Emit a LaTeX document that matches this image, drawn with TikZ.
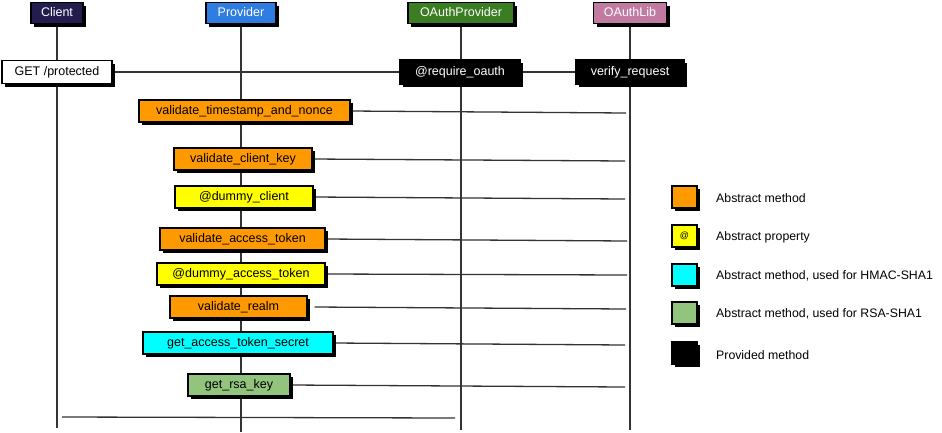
\documentclass[tikz,border=0pt]{standalone}
\usepackage{fontspec}
\setmainfont{Liberation Sans}
\usetikzlibrary{shadows,backgrounds}
\definecolor{cnavy}{HTML}{221C4F}
\definecolor{cblue}{HTML}{2F7DE1}
\definecolor{cgreen}{HTML}{3A7D22}
\definecolor{cpink}{HTML}{C27BA0}
\definecolor{corange}{HTML}{FF9900}
\definecolor{cyellow}{HTML}{FFFF00}
\definecolor{ccyan}{HTML}{00FFFF}
\definecolor{csage}{HTML}{93C47D}
\definecolor{linec}{HTML}{333333}
\begin{document}
\begin{tikzpicture}[x=1pt,y=-1pt,
  font=\fontsize{12.5}{14}\selectfont,
  box/.style={draw=black, line width=1.3pt, minimum height=22pt, inner sep=0pt,
    text height=8.5pt, text depth=2.5pt,
    drop shadow={shadow xshift=3pt, shadow yshift=-3pt, fill=black, opacity=1}},
  head/.style={box, text=white, minimum height=21pt},
  absm/.style={box, fill=corange},
  absp/.style={box, fill=cyellow},
  hmac/.style={box, fill=ccyan},
  rsa/.style={box, fill=csage},
  prov/.style={box, fill=black, text=white},
  life/.style={draw=linec, line width=1.3pt},
  conn/.style={draw=linec, line width=1.3pt},
  legtext/.style={anchor=west, inner sep=0pt, font=\fontsize{12.3}{14}\selectfont}]
\useasboundingbox (0,0) rectangle (942,432);
% headers
\node[head, fill=cnavy, minimum width=52pt] (client) at (57,13) {Client};
\node[head, fill=cblue, minimum width=70pt] (provider) at (241,13) {Provider};
\node[head, fill=cgreen, minimum width=106pt] (oprov) at (461,13) {OAuthProvider};
\node[head, fill=cpink, minimum width=73pt] (olib) at (630,13) {OAuthLib};
% bottom ends of lifelines
\coordinate (clientend) at (57,428);
\coordinate (provend) at (241,432);
\coordinate (oprovend) at (461,430);
\coordinate (olibend) at (630,430);
% request row
\node[box, fill=white, minimum width=110pt, minimum height=23pt] (get) at (57,72) {GET /protected};
\node[prov, minimum width=120pt, minimum height=24pt] (req) at (460,72) {@require\_oauth};
\node[prov, minimum width=108pt, minimum height=24pt] (ver) at (630,72) {verify\_request};
% methods
\node[absm, minimum width=211pt] (vtn) at (244.5,111) {validate\_timestamp\_and\_nonce};
\node[absm, minimum width=138pt] (vck) at (243,159) {validate\_client\_key};
\node[absp, minimum width=138pt] (dc) at (244,197) {@dummy\_client};
\node[absm, minimum width=165pt] (vat) at (242.5,239) {validate\_access\_token};
\node[absp, minimum width=168pt] (dat) at (241,274) {@dummy\_access\_token};
\node[absm, minimum width=137pt] (vr) at (238.5,307) {validate\_realm};
\node[hmac, minimum width=190pt] (gats) at (238,343) {get\_access\_token\_secret};
\node[rsa, minimum width=102pt] (grk) at (239,385) {get\_rsa\_key};
% end points on OAuthLib lifeline
\coordinate (e1) at (626,113);
\coordinate (e2) at (625,161);
\coordinate (e3) at (625,199);
\coordinate (e4) at (627,241);
\coordinate (e5) at (627,275);
\coordinate (e6) at (626,309);
\coordinate (e7) at (625,345);
\coordinate (e8) at (625,387);
\coordinate (bstart) at (62,417);
\coordinate (bend) at (455,418);
% legend
\node[absm, minimum width=25pt] (lo) at (684.5,197) {};
\node[absp, minimum width=25pt, font=\fontsize{9}{10}\selectfont, text height=6pt, text depth=1pt] (ly) at (684.5,236) {@};
\node[hmac, minimum width=25pt] (lc) at (684.5,275) {};
\node[rsa, minimum width=25pt] (lg) at (684.5,313) {};
\node[prov, minimum width=25pt] (lb) at (684.5,353) {};
\node[legtext] (t1) at (716,198) {Abstract method};
\node[legtext] (t2) at (716,237) {Abstract property};
\node[legtext] (t3) at (716,276) {Abstract method, used for HMAC-SHA1};
\node[legtext] (t4) at (716,314) {Abstract method, used for RSA-SHA1};
\node[legtext] (t5) at (716,355) {Provided method};
\begin{pgfonlayer}{background}
\draw[life] (client) -- (clientend);
\draw[life] (provider) -- (provend);
\draw[life] (oprov) -- (oprovend);
\draw[life] (olib) -- (olibend);
\draw[conn] (get) -- (req);
\draw[conn] (req) -- (ver);
\draw[conn] (vtn.east) -- (e1);
\draw[conn] (vck.east) -- (e2);
\draw[conn] (dc.east) -- (e3);
\draw[conn] (vat.east) -- (e4);
\draw[conn] (dat.east) -- (e5);
\draw[conn] ([xshift=7pt]vr.east) -- (e6);
\draw[conn] (gats.east) -- (e7);
\draw[conn] (grk.east) -- (e8);
\draw[conn] (bstart) -- (bend);
\end{pgfonlayer}
\end{tikzpicture}
\end{document}
